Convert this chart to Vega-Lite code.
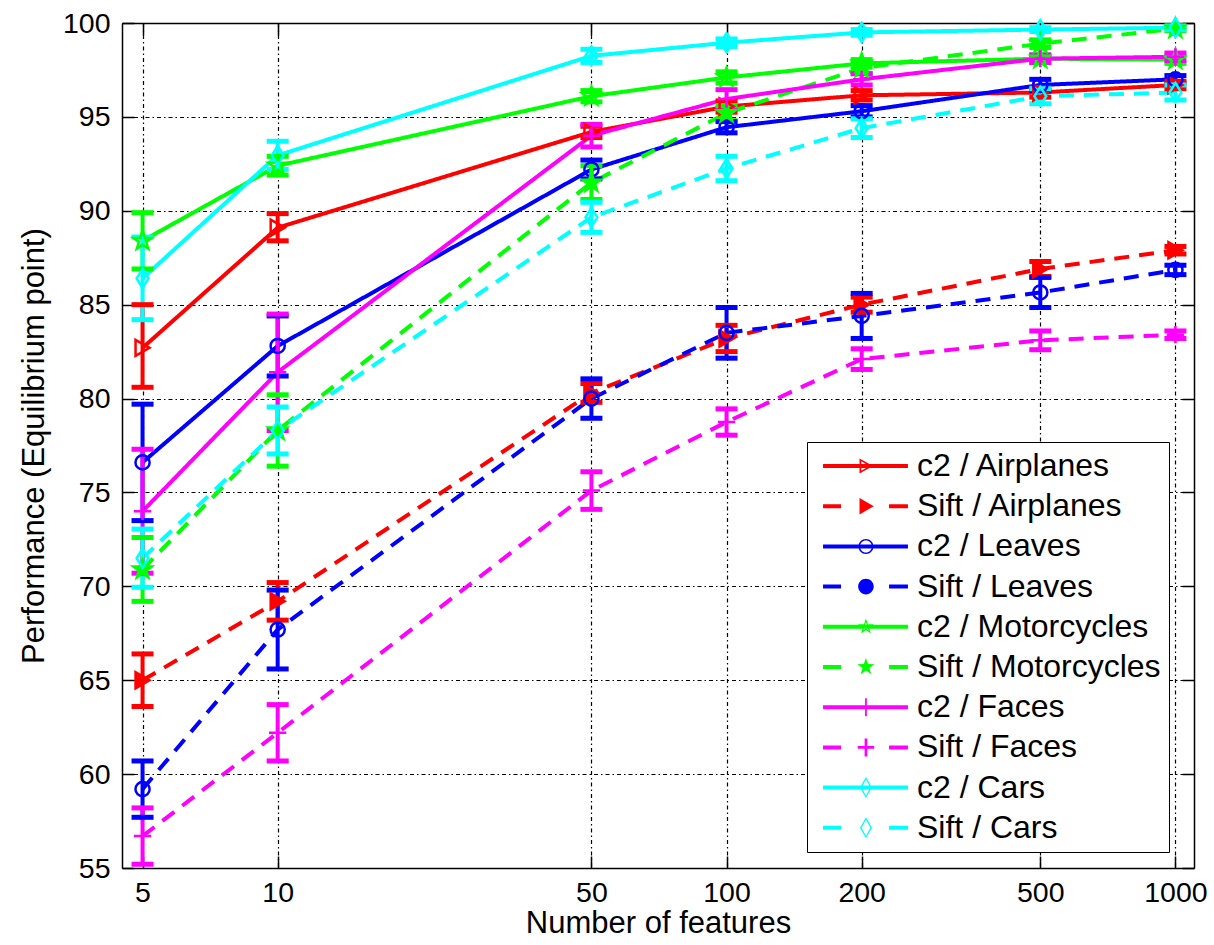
{
  "$schema": "https://vega.github.io/schema/vega-lite/v6.json",
  "width": 1072,
  "height": 845,
  "autosize": {"type": "none"},
  "padding": {"left": 122, "top": 23, "right": 20, "bottom": 77},
  "background": "white",
  "config": {
    "view": {"stroke": null},
    "axis": {
      "domainColor": "black", "domainWidth": 1.5,
      "tickColor": "black", "tickWidth": 1.5,
      "labelColor": "black", "labelFont": "Liberation Sans", "labelFontSize": 28.5,
      "labelFlush": false, "labelOverlap": false,
      "titleFont": "Liberation Sans", "titleFontSize": 31, "titleFontWeight": "normal", "titleColor": "black",
      "gridColor": "black", "gridDash": [4, 3, 1.5, 3], "gridWidth": 1.2, "gridOpacity": 1
    }
  },
  "data": {"values": [
    {"series":"c2 / Airplanes","method":"c2","category":"Airplanes","features":5,"perf":82.7,"lo":80.6,"hi":85.0},
    {"series":"c2 / Airplanes","method":"c2","category":"Airplanes","features":10,"perf":89.1,"lo":88.4,"hi":89.85},
    {"series":"c2 / Airplanes","method":"c2","category":"Airplanes","features":50,"perf":94.2,"lo":93.9,"hi":94.5},
    {"series":"c2 / Airplanes","method":"c2","category":"Airplanes","features":100,"perf":95.55,"lo":95.25,"hi":95.85},
    {"series":"c2 / Airplanes","method":"c2","category":"Airplanes","features":200,"perf":96.15,"lo":95.9,"hi":96.4},
    {"series":"c2 / Airplanes","method":"c2","category":"Airplanes","features":500,"perf":96.3,"lo":96.05,"hi":96.55},
    {"series":"c2 / Airplanes","method":"c2","category":"Airplanes","features":1000,"perf":96.7,"lo":96.5,"hi":96.9},
    {"series":"Sift / Airplanes","method":"Sift","category":"Airplanes","features":5,"perf":65.0,"lo":63.6,"hi":66.4},
    {"series":"Sift / Airplanes","method":"Sift","category":"Airplanes","features":10,"perf":69.2,"lo":68.2,"hi":70.2},
    {"series":"Sift / Airplanes","method":"Sift","category":"Airplanes","features":50,"perf":80.3,"lo":79.8,"hi":80.8},
    {"series":"Sift / Airplanes","method":"Sift","category":"Airplanes","features":100,"perf":83.2,"lo":82.5,"hi":83.9},
    {"series":"Sift / Airplanes","method":"Sift","category":"Airplanes","features":200,"perf":85.0,"lo":84.6,"hi":85.4},
    {"series":"Sift / Airplanes","method":"Sift","category":"Airplanes","features":500,"perf":86.9,"lo":86.5,"hi":87.3},
    {"series":"Sift / Airplanes","method":"Sift","category":"Airplanes","features":1000,"perf":87.9,"lo":87.7,"hi":88.1},
    {"series":"c2 / Leaves","method":"c2","category":"Leaves","features":5,"perf":76.6,"lo":73.5,"hi":79.7},
    {"series":"c2 / Leaves","method":"c2","category":"Leaves","features":10,"perf":82.8,"lo":81.2,"hi":84.4},
    {"series":"c2 / Leaves","method":"c2","category":"Leaves","features":50,"perf":92.2,"lo":91.7,"hi":92.7},
    {"series":"c2 / Leaves","method":"c2","category":"Leaves","features":100,"perf":94.45,"lo":94.15,"hi":94.75},
    {"series":"c2 / Leaves","method":"c2","category":"Leaves","features":200,"perf":95.3,"lo":95.0,"hi":95.6},
    {"series":"c2 / Leaves","method":"c2","category":"Leaves","features":500,"perf":96.7,"lo":96.4,"hi":97.0},
    {"series":"c2 / Leaves","method":"c2","category":"Leaves","features":1000,"perf":97.0,"lo":96.8,"hi":97.2},
    {"series":"Sift / Leaves","method":"Sift","category":"Leaves","features":5,"perf":59.2,"lo":57.7,"hi":60.7},
    {"series":"Sift / Leaves","method":"Sift","category":"Leaves","features":10,"perf":67.7,"lo":65.6,"hi":69.8},
    {"series":"Sift / Leaves","method":"Sift","category":"Leaves","features":50,"perf":80.0,"lo":78.95,"hi":81.05},
    {"series":"Sift / Leaves","method":"Sift","category":"Leaves","features":100,"perf":83.5,"lo":82.15,"hi":84.85},
    {"series":"Sift / Leaves","method":"Sift","category":"Leaves","features":200,"perf":84.4,"lo":83.2,"hi":85.6},
    {"series":"Sift / Leaves","method":"Sift","category":"Leaves","features":500,"perf":85.65,"lo":84.85,"hi":86.45},
    {"series":"Sift / Leaves","method":"Sift","category":"Leaves","features":1000,"perf":86.85,"lo":86.6,"hi":87.1},
    {"series":"c2 / Motorcycles","method":"c2","category":"Motorcycles","features":5,"perf":88.4,"lo":86.9,"hi":89.9},
    {"series":"c2 / Motorcycles","method":"c2","category":"Motorcycles","features":10,"perf":92.4,"lo":91.9,"hi":92.9},
    {"series":"c2 / Motorcycles","method":"c2","category":"Motorcycles","features":50,"perf":96.1,"lo":95.8,"hi":96.4},
    {"series":"c2 / Motorcycles","method":"c2","category":"Motorcycles","features":100,"perf":97.1,"lo":96.8,"hi":97.4},
    {"series":"c2 / Motorcycles","method":"c2","category":"Motorcycles","features":200,"perf":97.85,"lo":97.65,"hi":98.05},
    {"series":"c2 / Motorcycles","method":"c2","category":"Motorcycles","features":500,"perf":98.1,"lo":97.9,"hi":98.3},
    {"series":"c2 / Motorcycles","method":"c2","category":"Motorcycles","features":1000,"perf":98.05,"lo":97.85,"hi":98.25},
    {"series":"Sift / Motorcycles","method":"Sift","category":"Motorcycles","features":5,"perf":70.9,"lo":69.2,"hi":72.6},
    {"series":"Sift / Motorcycles","method":"Sift","category":"Motorcycles","features":10,"perf":78.3,"lo":76.4,"hi":80.2},
    {"series":"Sift / Motorcycles","method":"Sift","category":"Motorcycles","features":50,"perf":91.5,"lo":90.6,"hi":92.4},
    {"series":"Sift / Motorcycles","method":"Sift","category":"Motorcycles","features":100,"perf":95.2,"lo":94.8,"hi":95.6},
    {"series":"Sift / Motorcycles","method":"Sift","category":"Motorcycles","features":200,"perf":97.6,"lo":97.3,"hi":97.9},
    {"series":"Sift / Motorcycles","method":"Sift","category":"Motorcycles","features":500,"perf":98.9,"lo":98.7,"hi":99.1},
    {"series":"Sift / Motorcycles","method":"Sift","category":"Motorcycles","features":1000,"perf":99.7,"lo":99.6,"hi":99.8},
    {"series":"c2 / Faces","method":"c2","category":"Faces","features":5,"perf":74.0,"lo":70.7,"hi":77.3},
    {"series":"c2 / Faces","method":"c2","category":"Faces","features":10,"perf":81.4,"lo":78.3,"hi":84.5},
    {"series":"c2 / Faces","method":"c2","category":"Faces","features":50,"perf":94.0,"lo":93.4,"hi":94.6},
    {"series":"c2 / Faces","method":"c2","category":"Faces","features":100,"perf":95.95,"lo":95.45,"hi":96.45},
    {"series":"c2 / Faces","method":"c2","category":"Faces","features":200,"perf":97.0,"lo":96.7,"hi":97.3},
    {"series":"c2 / Faces","method":"c2","category":"Faces","features":500,"perf":98.1,"lo":97.9,"hi":98.3},
    {"series":"c2 / Faces","method":"c2","category":"Faces","features":1000,"perf":98.2,"lo":98.0,"hi":98.4},
    {"series":"Sift / Faces","method":"Sift","category":"Faces","features":5,"perf":56.7,"lo":55.2,"hi":58.2},
    {"series":"Sift / Faces","method":"Sift","category":"Faces","features":10,"perf":62.2,"lo":60.7,"hi":63.7},
    {"series":"Sift / Faces","method":"Sift","category":"Faces","features":50,"perf":75.1,"lo":74.1,"hi":76.1},
    {"series":"Sift / Faces","method":"Sift","category":"Faces","features":100,"perf":78.75,"lo":78.05,"hi":79.45},
    {"series":"Sift / Faces","method":"Sift","category":"Faces","features":200,"perf":82.1,"lo":81.55,"hi":82.65},
    {"series":"Sift / Faces","method":"Sift","category":"Faces","features":500,"perf":83.1,"lo":82.6,"hi":83.6},
    {"series":"Sift / Faces","method":"Sift","category":"Faces","features":1000,"perf":83.4,"lo":83.2,"hi":83.6},
    {"series":"c2 / Cars","method":"c2","category":"Cars","features":5,"perf":86.4,"lo":84.2,"hi":88.6},
    {"series":"c2 / Cars","method":"c2","category":"Cars","features":10,"perf":92.95,"lo":92.2,"hi":93.7},
    {"series":"c2 / Cars","method":"c2","category":"Cars","features":50,"perf":98.25,"lo":97.9,"hi":98.6},
    {"series":"c2 / Cars","method":"c2","category":"Cars","features":100,"perf":98.95,"lo":98.75,"hi":99.15},
    {"series":"c2 / Cars","method":"c2","category":"Cars","features":200,"perf":99.5,"lo":99.35,"hi":99.65},
    {"series":"c2 / Cars","method":"c2","category":"Cars","features":500,"perf":99.65,"lo":99.55,"hi":99.75},
    {"series":"c2 / Cars","method":"c2","category":"Cars","features":1000,"perf":99.75,"lo":99.65,"hi":99.85},
    {"series":"Sift / Cars","method":"Sift","category":"Cars","features":5,"perf":71.5,"lo":69.95,"hi":73.05},
    {"series":"Sift / Cars","method":"Sift","category":"Cars","features":10,"perf":78.3,"lo":77.05,"hi":79.55},
    {"series":"Sift / Cars","method":"Sift","category":"Cars","features":50,"perf":89.65,"lo":88.85,"hi":90.45},
    {"series":"Sift / Cars","method":"Sift","category":"Cars","features":100,"perf":92.25,"lo":91.6,"hi":92.9},
    {"series":"Sift / Cars","method":"Sift","category":"Cars","features":200,"perf":94.4,"lo":93.9,"hi":94.9},
    {"series":"Sift / Cars","method":"Sift","category":"Cars","features":500,"perf":96.1,"lo":95.7,"hi":96.5},
    {"series":"Sift / Cars","method":"Sift","category":"Cars","features":1000,"perf":96.3,"lo":95.9,"hi":96.7}
  ]},
  "layer": [
    {
      "transform": [{"filter": "false"}],
      "mark": {"type": "point", "filled": true, "opacity": 1, "strokeWidth": 0},
      "encoding": {
        "x": {"field": "features", "type": "quantitative",
          "scale": {"type": "log", "domain": [4.5, 1100], "nice": false},
          "axis": {"orient": "top", "labels": false, "title": null, "grid": false, "tickSize": -12, "values": [5, 10, 50, 100, 200, 500, 1000]}},
        "y": {"field": "perf", "type": "quantitative",
          "scale": {"domain": [55, 100], "nice": false, "zero": false},
          "axis": {"orient": "right", "labels": false, "title": null, "grid": false, "tickSize": -12, "values": [55, 60, 65, 70, 75, 80, 85, 90, 95, 100]}},
        "color": {"field": "series", "type": "nominal",
          "scale": {"domain": ["c2 / Airplanes","Sift / Airplanes","c2 / Leaves","Sift / Leaves","c2 / Motorcycles","Sift / Motorcycles","c2 / Faces","Sift / Faces","c2 / Cars","Sift / Cars"],
                    "range": ["#ff0000","#ff0000","#0000ff","#0000ff","#00ff00","#00ff00","#ff00ff","#ff00ff","#00ffff","#00ffff"]},
          "legend": {"orient": "none", "legendX": 685, "legendY": 419, "title": null,
            "labelFont": "Liberation Sans", "labelFontSize": 32, "labelColor": "black", "labelLimit": 500,
            "labelOffset": 70, "symbolSize": 900, "symbolStrokeWidth": 0, "symbolOpacity": 1,
            "rowPadding": 8.2, "padding": 8, "strokeColor": "black", "fillColor": "white"}},
        "shape": {"field": "series", "type": "nominal",
          "scale": {"domain": ["c2 / Airplanes","Sift / Airplanes","c2 / Leaves","Sift / Leaves","c2 / Motorcycles","Sift / Motorcycles","c2 / Faces","Sift / Faces","c2 / Cars","Sift / Cars"],
            "range": [
              "M-0.53,-0.133H5.13V0.133H-0.53ZM1.9,-0.5L2.8,0L1.9,0.5ZM2.02,-0.31L2.02,0.31L2.56,0Z",
              "M-0.53,-0.133H0.67V0.133H-0.53ZM3.87,-0.133H5.13V0.133H3.87ZM1.9,-0.55L2.85,0L1.9,0.55Z",
              "M-0.53,-0.133H5.13V0.133H-0.53ZM2.83,0A0.5,0.5 0 1 1 1.83,0A0.5,0.5 0 1 1 2.83,0ZM2.73,0A0.4,0.4 0 1 0 1.93,0A0.4,0.4 0 1 0 2.73,0Z",
              "M-0.53,-0.133H0.67V0.133H-0.53ZM3.87,-0.133H5.13V0.133H3.87ZM2.85,0A0.52,0.52 0 1 1 1.81,0A0.52,0.52 0 1 1 2.85,0Z",
              "M-0.53,-0.133H5.13V0.133H-0.53ZM2.33,-0.55L2.459,-0.178L2.853,-0.17L2.539,0.068L2.653,0.445L2.33,0.22L2.007,0.445L2.121,0.068L1.807,-0.17L2.201,-0.178ZM2.33,-0.3L2.259,-0.097L2.045,-0.093L2.216,0.037L2.154,0.243L2.33,0.12L2.506,0.243L2.444,0.037L2.615,-0.093L2.401,-0.097Z",
              "M-0.53,-0.133H0.67V0.133H-0.53ZM3.87,-0.133H5.13V0.133H3.87ZM2.33,-0.6L2.471,-0.194L2.901,-0.185L2.558,0.074L2.683,0.485L2.33,0.24L1.977,0.485L2.102,0.074L1.759,-0.185L2.189,-0.194Z",
              "M-0.53,-0.133H5.13V0.133H-0.53ZM2.27,-0.6H2.39V0.6H2.27Z",
              "M-0.53,-0.133H0.67V0.133H-0.53ZM3.87,-0.133H5.13V0.133H3.87ZM2.24,-0.6H2.42V0.6H2.24ZM1.78,-0.09H2.88V0.09H1.78Z",
              "M-0.53,-0.133H5.13V0.133H-0.53ZM2.33,-0.7L2.73,0L2.33,0.7L1.93,0ZM2.33,-0.54L2.04,0L2.33,0.54L2.62,0Z",
              "M-0.53,-0.133H0.67V0.133H-0.53ZM3.87,-0.133H5.13V0.133H3.87ZM2.33,-0.7L2.73,0L2.33,0.7L1.93,0ZM2.33,-0.54L2.04,0L2.33,0.54L2.62,0Z"
            ]}}
      }
    },
    {
      "encoding": {
        "x": {"field": "features", "type": "quantitative",
          "scale": {"type": "log", "domain": [4.5, 1100], "nice": false},
          "axis": {"orient": "bottom", "values": [5, 10, 50, 100, 200, 500, 1000], "format": "d", "grid": true,
                   "tickSize": -12, "labelPadding": 22, "title": "Number of features", "titlePadding": 2}},
        "y": {"field": "perf", "type": "quantitative",
          "scale": {"domain": [55, 100], "nice": false, "zero": false},
          "axis": {"orient": "left", "values": [55, 60, 65, 70, 75, 80, 85, 90, 95, 100], "grid": true,
                   "tickSize": -12, "labelPadding": 24, "title": "Performance (Equilibrium point)", "titlePadding": 12}}
      },
      "layer": [
        {
          "mark": {"type": "line", "strokeWidth": 4},
          "encoding": {
            "stroke": {"field": "series", "type": "nominal", "legend": null,
              "scale": {"domain": ["c2 / Airplanes","Sift / Airplanes","c2 / Leaves","Sift / Leaves","c2 / Motorcycles","Sift / Motorcycles","c2 / Faces","Sift / Faces","c2 / Cars","Sift / Cars"],
                        "range": ["#ff0000","#ff0000","#0000ff","#0000ff","#00ff00","#00ff00","#ff00ff","#ff00ff","#00ffff","#00ffff"]}},
            "strokeDash": {"field": "method", "type": "nominal", "legend": null,
              "scale": {"domain": ["c2", "Sift"], "range": [[1, 0], [15, 10]]}}
          }
        },
        {
          "mark": {"type": "rule", "strokeWidth": 4},
          "encoding": {
            "y": {"field": "lo", "type": "quantitative"},
            "y2": {"field": "hi"},
            "stroke": {"field": "series", "type": "nominal", "legend": null}
          }
        },
        {
          "mark": {"type": "point", "shape": "stroke", "size": 484, "strokeWidth": 5, "opacity": 1, "filled": false},
          "encoding": {
            "y": {"field": "lo", "type": "quantitative"},
            "stroke": {"field": "series", "type": "nominal", "legend": null}
          }
        },
        {
          "mark": {"type": "point", "shape": "stroke", "size": 484, "strokeWidth": 5, "opacity": 1, "filled": false},
          "encoding": {
            "y": {"field": "hi", "type": "quantitative"},
            "stroke": {"field": "series", "type": "nominal", "legend": null}
          }
        },
        {
          "transform": [{"filter": {"field": "category", "equal": "Airplanes"}}],
          "mark": {"type": "point", "shape": "triangle-right", "size": 260, "strokeWidth": 2.5, "opacity": 1, "filled": false},
          "encoding": {
            "stroke": {"field": "series", "type": "nominal", "legend": null},
            "fill": {"field": "series", "type": "nominal", "legend": null,
              "scale": {"domain": ["c2 / Airplanes","Sift / Airplanes","c2 / Leaves","Sift / Leaves","c2 / Motorcycles","Sift / Motorcycles","c2 / Faces","Sift / Faces","c2 / Cars","Sift / Cars"],
                        "range": ["transparent","#ff0000","transparent","transparent","transparent","#00ff00","transparent","transparent","transparent","transparent"]}}
          }
        },
        {
          "transform": [{"filter": {"field": "category", "equal": "Leaves"}}],
          "mark": {"type": "point", "shape": "circle", "size": 200, "strokeWidth": 2.5, "opacity": 1, "filled": false},
          "encoding": {
            "stroke": {"field": "series", "type": "nominal", "legend": null},
            "fill": {"field": "series", "type": "nominal", "legend": null}
          }
        },
        {
          "transform": [{"filter": {"field": "category", "equal": "Motorcycles"}}],
          "mark": {"type": "point", "shape": "M0,-1L0.235,-0.324L0.951,-0.309L0.38,0.124L0.588,0.809L0,0.4L-0.588,0.809L-0.38,0.124L-0.951,-0.309L-0.235,-0.324Z", "size": 380, "strokeWidth": 2.5, "opacity": 1, "filled": false},
          "encoding": {
            "stroke": {"field": "series", "type": "nominal", "legend": null},
            "fill": {"field": "series", "type": "nominal", "legend": null}
          }
        },
        {
          "transform": [{"filter": {"field": "category", "equal": "Faces"}}],
          "mark": {"type": "point", "shape": "M0,-1V1M-1,0H1", "size": 300, "strokeWidth": 2.5, "opacity": 1, "filled": false},
          "encoding": {
            "stroke": {"field": "series", "type": "nominal", "legend": null},
            "fill": {"field": "series", "type": "nominal", "legend": null}
          }
        },
        {
          "transform": [{"filter": {"field": "category", "equal": "Cars"}}],
          "mark": {"type": "point", "shape": "M0,-1.2L0.75,0L0,1.2L-0.75,0Z", "size": 250, "strokeWidth": 2.5, "opacity": 1, "filled": false},
          "encoding": {
            "stroke": {"field": "series", "type": "nominal", "legend": null},
            "fill": {"field": "series", "type": "nominal", "legend": null}
          }
        }
      ]
    }
  ],
  "resolve": {"axis": {"x": "independent", "y": "independent"}}
}
